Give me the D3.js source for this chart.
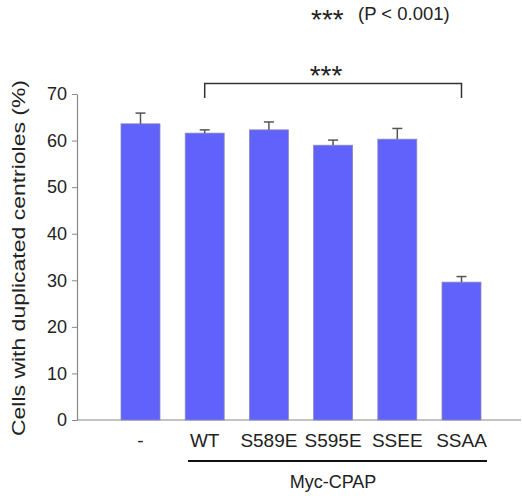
<!DOCTYPE html>
<html>
<head>
<meta charset="utf-8">
<script src="https://cdn.jsdelivr.net/npm/d3@7"></script>
<style>
  body { margin: 0; background: #fff; }
  svg text { font-family: Arial, "Liberation Sans", sans-serif; fill: #222; }
</style>
</head>
<body>
<svg width="522" height="496"></svg>
<script>
var width = 522;
var height = 496;

// data
var categories = ["-", "WT", "S589E", "S595E", "SSEE", "SSAA"];
var values = [63.6, 61.6, 62.3, 59.0, 60.3, 29.6];
var errors = [2.3, 0.7, 1.7, 1.1, 2.3, 1.2];
var yTicks = [0, 10, 20, 30, 40, 50, 60, 70];

var svg = d3.select("svg");

var x = d3.scaleBand()
    .domain(categories)
    .range([108.4, 493.6])
    .paddingInner(0.393)
    .paddingOuter(0.1965);

var y = d3.scaleLinear()
    .domain([0, 70])
    .range([420, 94]);

// y axis
var yAxis = d3.axisLeft(y)
    .tickValues(yTicks)
    .tickSize(5)
    .tickPadding(5)
    .tickSizeOuter(0);
var yg = svg.append("g")
    .attr("transform", "translate(77,0)")
    .call(yAxis);
yg.select(".domain").attr("stroke", "#888").attr("stroke-width", 1.2);
yg.selectAll(".tick line").attr("stroke", "#888");
yg.selectAll(".tick text")
    .attr("font-size", "18px")
    .attr("font-family", "Arial, 'Liberation Sans', sans-serif")
    .attr("fill", "#222");

// x baseline
svg.append("line")
    .attr("x1", 77).attr("x2", 521)
    .attr("y1", y(0)).attr("y2", y(0))
    .attr("stroke", "#888")
    .attr("stroke-width", 1.2);

// y label
svg.append("text")
    .attr("transform", "translate(25,258) rotate(-90)")
    .attr("text-anchor", "middle")
    .attr("font-size", "18px")
    .attr("textLength", 356)
    .attr("lengthAdjust", "spacingAndGlyphs")
    .text("Cells with duplicated centrioles (%)");

// bars
svg.selectAll(".bar")
    .data(values)
    .enter()
    .append("rect")
    .attr("class", "bar")
    .attr("x", function(d, i) { return x(categories[i]); })
    .attr("y", function(d) { return y(d); })
    .attr("width", x.bandwidth())
    .attr("height", function(d) { return y(0) - y(d); })
    .attr("fill", "#6161fb")
    .attr("stroke", "#8a8ab8")
    .attr("stroke-width", 0.8);

// error bars (upper only)
var eg = svg.selectAll(".err")
    .data(values)
    .enter()
    .append("g")
    .attr("class", "err");
eg.append("line")
    .attr("x1", function(d, i) { return x(categories[i]) + x.bandwidth() / 2; })
    .attr("x2", function(d, i) { return x(categories[i]) + x.bandwidth() / 2; })
    .attr("y1", function(d) { return y(d); })
    .attr("y2", function(d, i) { return y(d + errors[i]); })
    .attr("stroke", "#555")
    .attr("stroke-width", 1.5);
eg.append("line")
    .attr("x1", function(d, i) { return x(categories[i]) + x.bandwidth() / 2 - 5; })
    .attr("x2", function(d, i) { return x(categories[i]) + x.bandwidth() / 2 + 5; })
    .attr("y1", function(d, i) { return y(d + errors[i]); })
    .attr("y2", function(d, i) { return y(d + errors[i]); })
    .attr("stroke", "#555")
    .attr("stroke-width", 1.5);

// category labels
svg.selectAll(".cat")
    .data(categories)
    .enter()
    .append("text")
    .attr("class", "cat")
    .attr("x", function(d) { return x(d) + x.bandwidth() / 2; })
    .attr("y", 447)
    .attr("text-anchor", "middle")
    .attr("font-size", "19px")
    .text(function(d) { return d; });

// Myc-CPAP group line
var cx1 = x("WT") + x.bandwidth() / 2;
var cx6 = x("SSAA") + x.bandwidth() / 2;
svg.append("line")
    .attr("x1", 188).attr("x2", 487)
    .attr("y1", 461).attr("y2", 461)
    .attr("stroke", "#111")
    .attr("stroke-width", 2);
svg.append("text")
    .attr("x", 333)
    .attr("y", 488)
    .attr("text-anchor", "middle")
    .attr("font-size", "18px")
    .text("Myc-CPAP");

// significance bracket
svg.append("path")
    .attr("d", "M" + cx1 + "," + 98 + "V" + 83.5 + "H" + cx6 + "V" + 98)
    .attr("fill", "none")
    .attr("stroke", "#333")
    .attr("stroke-width", 1.5);
svg.append("text")
    .attr("x", 326)
    .attr("y", 85)
    .attr("text-anchor", "middle")
    .attr("font-size", "28px")
    .text("***");

// key
svg.append("text")
    .attr("x", 311)
    .attr("y", 29)
    .attr("font-size", "28px")
    .text("***");
svg.append("text")
    .attr("x", 358)
    .attr("y", 20)
    .attr("font-size", "18.5px")
    .text("(P < 0.001)");
</script>
</body>
</html>
